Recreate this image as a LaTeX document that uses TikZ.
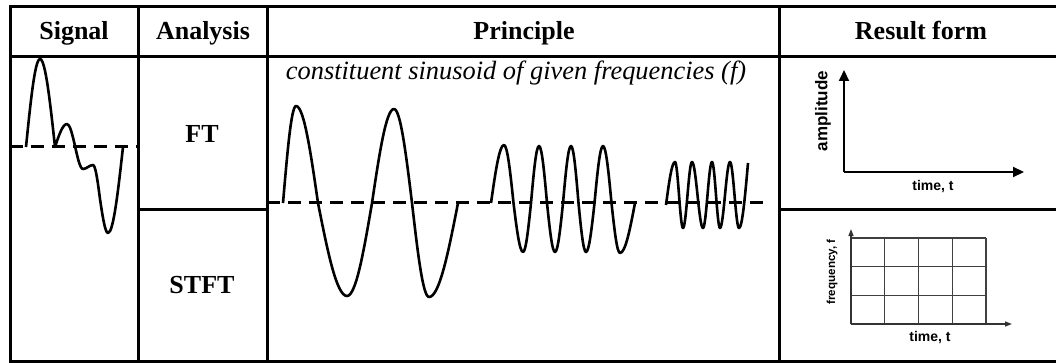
\documentclass[tikz,border=0pt]{standalone}
\usepackage{fontspec}
\setmainfont{Liberation Serif}
\setsansfont{Liberation Sans}
\usetikzlibrary{arrows.meta}

\begin{document}
\begin{tikzpicture}[x=1pt,y=-1pt,
  rule/.style={line width=3pt},
  hdr/.style={font=\fontsize{26}{30}\selectfont\bfseries,anchor=base},
  meth/.style={font=\fontsize{26}{30}\selectfont\bfseries},
  wave/.style={line width=2.6pt,line join=round},
  zero/.style={line width=3pt,dash pattern=on 13pt off 8pt},
  axlbl/.style={font=\sffamily\bfseries\fontsize{14}{16}\selectfont},
  bigaxis/.style={line width=2pt,-{Triangle[length=11pt,width=10pt]}},
  smallaxis/.style={line width=1.4pt,black!80,-{Triangle[length=7pt,width=5pt]}},
  gridln/.style={line width=1.4pt,black!75}]
\useasboundingbox (0,0) rectangle (1056,363);
% table
\draw[rule] (1058,7) -- (10,7) -- (10,361.5) -- (1058,361.5);
\draw[rule] (10,57) -- (1058,57);
\draw[rule] (138,7) -- (138,361.5) (267,7) -- (267,361.5) (779,7) -- (779,361.5);
\draw[rule] (138,210) -- (267,210) (779,210) -- (1058,210);
\node[hdr] (hsig) at (74,40) {Signal};
\node[hdr] (hana) at (203,40) {Analysis};
\node[hdr] (hpri) at (524,40) {Principle};
\node[hdr] (hres) at (921,40) {Result form};
\node[meth] (ft) at (202,133.5) {FT};
\node[meth] (stft) at (202,285.5) {STFT};
% signal
\draw[zero] (10,147) -- (138,147);
\draw[wave] (26,147) sin (40,59) cos (55,147) sin (67,124) cos (75,146) sin (83,169)
  cos (88,167) sin (93,165) cos (100,199) sin (108,233) cos (123,147);
% principle
\node[anchor=base,font=\fontsize{26.4}{30}\selectfont\itshape] (cap) at (516,80)
  {constituent sinusoid of given frequencies (f)};
\draw[zero] (267,203) -- (763,203);
\draw[wave] (283,203) sin (296,106) cos (318,203) sin (347,296) cos (372,203)
  sin (394,109) cos (412,203) sin (429,297) cos (458,203);
\draw[wave] (491,203) sin (504,145) cos (513.5,203) sin (523,252) cos (531,203)
  sin (539,146) cos (547,203) sin (555,252) cos (563,203) sin (571,146) cos (578.5,203)
  sin (586,252) cos (594.5,203) sin (603,146) cos (611.5,203) sin (620,253) cos (635,203);
\draw[wave] (666,205) sin (675,162) cos (679,195) sin (683,228) cos (687.5,195)
  sin (692,162) cos (697.5,195) sin (703,228) cos (707.5,195) sin (712,162) cos (716,195)
  sin (720,228) cos (725,195) sin (730,162) cos (734.5,195) sin (739,228) cos (748,163);
% result form
\coordinate (o1) at (844,172);
\coordinate (y1) at (844,70);
\coordinate (x1) at (1024,172);
\draw[bigaxis] (o1) -- (y1);
\draw[bigaxis] (o1) -- (x1);
\node[axlbl,font=\sffamily\bfseries\fontsize{17}{19}\selectfont,rotate=90] (amp) at (823,111) {amplitude};
\node[axlbl] (t1) at (933,187) {time, t};
\foreach \i in {0,...,4}
  \draw[gridln] ({851+33.75*\i},238) -- ({851+33.75*\i},324);
\foreach \j in {0,...,2}
  \draw[gridln] (851,{238+28.67*\j}) -- (986,{238+28.67*\j});
\coordinate (o2) at (851,324);
\coordinate (y2) at (851,229);
\coordinate (x2) at (1012,324);
\draw[smallaxis] (o2) -- (y2);
\draw[smallaxis] (o2) -- (x2);
\node[axlbl,font=\sffamily\bfseries\fontsize{11.6}{14}\selectfont,rotate=90] (frq) at (832,272) {frequency, f};
\node[axlbl] (t2) at (930,338) {time, t};
\end{tikzpicture}
\end{document}
